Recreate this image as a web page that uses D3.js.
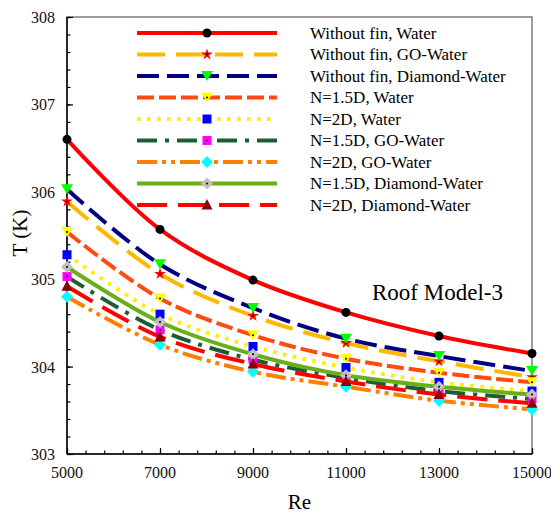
<!DOCTYPE html>
<html>
<head>
<meta charset="utf-8">
<script src="https://cdn.jsdelivr.net/npm/d3@7"></script>
<style>
body { margin: 0; background: #fff; }
text { font-family: "Liberation Serif", "Times New Roman", serif; }
</style>
</head>
<body>
<div id="chart"></div>
<script>
// Re values (x)
var reValues = [5000, 7000, 9000, 11000, 13000, 15000];

// temperature, K
var noFinWater   = [306.60, 305.57, 304.99, 304.62, 304.35, 304.15];
var noFinGO      = [305.89, 305.06, 304.58, 304.27, 304.06, 303.88];
var noFinDiamond = [306.03, 305.17, 304.67, 304.32, 304.12, 303.95];
var n15Water     = [305.54, 304.78, 304.36, 304.09, 303.93, 303.82];
var n2Water      = [305.28, 304.60, 304.23, 303.99, 303.82, 303.72];
var n15GO        = [305.03, 304.42, 304.08, 303.87, 303.72, 303.63];
var n2GO         = [304.80, 304.25, 303.94, 303.77, 303.61, 303.51];
var n15Diamond   = [305.14, 304.51, 304.14, 303.90, 303.77, 303.68];
var n2Diamond    = [304.92, 304.34, 304.03, 303.83, 303.68, 303.58];

var seriesNames = ["Without fin, Water", "Without fin, GO-Water", "Without fin, Diamond-Water",
  "N=1.5D, Water", "N=2D, Water", "N=1.5D, GO-Water", "N=2D, GO-Water",
  "N=1.5D, Diamond-Water", "N=2D, Diamond-Water"];
var seriesValues = [noFinWater, noFinGO, noFinDiamond, n15Water, n2Water, n15GO, n2GO, n15Diamond, n2Diamond];

var xTicks = [5000, 7000, 9000, 11000, 13000, 15000];
var yTicks = [303, 304, 305, 306, 307, 308];

// line and marker style for each series
var styles = [
  {color: "#ff0000", dash: null,             marker: "circle",   fill: "#000000", dot: false},
  {color: "#ffb800", dash: "28,11",          marker: "star",     fill: "#ff0000", dot: true},
  {color: "#000080", dash: "22,8",           marker: "triDown",  fill: "#00ff00", dot: false},
  {color: "#ff4a10", dash: "17,5",           marker: "triDown",  fill: "#ffff00", dot: true},
  {color: "#ffee00", dash: "3.5,6.5",        marker: "square",   fill: "#0000ff", dot: false},
  {color: "#1e5c32", dash: "20,8,4,8",       marker: "square",   fill: "#ff00ff", dot: true},
  {color: "#ff8000", dash: "20,5,4,5,4,5",   marker: "diamond",  fill: "#00ffff", dot: false},
  {color: "#6aae1a", dash: null,             marker: "diamond",  fill: "#c0c0c0", dot: true},
  {color: "#ff0000", dash: "30,11",          marker: "triUp",    fill: "#8b0000", dot: false}
];

var W = 551, H = 513;
var padL = 67, padR = 532, padT = 17, padB = 454;

var svg = d3.select("#chart").append("svg").attr("width", W).attr("height", H);

var x = d3.scaleLinear().domain([5000, 15000]).range([padL, padR]);
var y = d3.scaleLinear().domain([303, 308]).range([padB, padT]);

// plot frame
svg.append("rect").attr("x", padL).attr("y", padT).attr("width", padR - padL).attr("height", padB - padT)
  .attr("fill", "none").attr("stroke", "#7f7f7f").attr("stroke-width", 1.5);

// axes: ticks inside
var xMinor = d3.range(5000, 15001, 400);
var yMinor = d3.range(0, 26).map(function(i){ return 303 + i * 0.2; });

svg.append("g").attr("transform", "translate(0," + padB + ")")
  .call(d3.axisTop(x).tickValues(xMinor).tickSize(3.5).tickFormat(""))
  .call(function(g){ g.select(".domain").remove(); });
svg.append("g").attr("transform", "translate(0," + padB + ")")
  .call(d3.axisTop(x).tickValues(xTicks).tickSize(6).tickFormat(""))
  .call(function(g){ g.select(".domain").remove(); });
svg.append("g").attr("transform", "translate(" + padL + ",0)")
  .call(d3.axisRight(y).tickValues(yMinor).tickSize(3.5).tickFormat(""))
  .call(function(g){ g.select(".domain").remove(); });
svg.append("g").attr("transform", "translate(" + padL + ",0)")
  .call(d3.axisRight(y).tickValues(yTicks).tickSize(6).tickFormat(""))
  .call(function(g){ g.select(".domain").remove(); });
svg.selectAll(".tick line").attr("stroke", "#000").attr("stroke-width", 1.2);

svg.append("line").attr("x1", padL).attr("x2", padL).attr("y1", padT).attr("y2", padB)
  .attr("stroke", "#000").attr("stroke-width", 1.5);
svg.append("line").attr("x1", padL).attr("x2", padR).attr("y1", padB).attr("y2", padB)
  .attr("stroke", "#000").attr("stroke-width", 1.5);

// tick labels
svg.selectAll(".xlab").data(xTicks).enter().append("text")
  .attr("x", function(d){ return x(d); }).attr("y", padB + 24)
  .attr("text-anchor", "middle").attr("font-size", 16).attr("fill", "#111")
  .text(function(d){ return d; });
svg.selectAll(".ylab").data(yTicks).enter().append("text")
  .attr("x", padL - 12).attr("y", function(d){ return y(d) + 6; })
  .attr("text-anchor", "end").attr("font-size", 16).attr("fill", "#111")
  .text(function(d){ return d; });

// axis titles
svg.append("text").attr("x", (padL + padR) / 2).attr("y", 509).attr("text-anchor", "middle")
  .attr("font-size", 21).text("Re");
svg.append("text").attr("transform", "translate(27,233) rotate(-90)").attr("text-anchor", "middle")
  .attr("font-size", 21).text("T (K)");

svg.append("text").attr("x", 372).attr("y", 300).attr("font-size", 23).text("Roof Model-3");

var line = d3.line()
  .x(function(d, i){ return x(reValues[i]); })
  .y(function(d){ return y(d); })
  .curve(d3.curveCatmullRom.alpha(0.5));

function drawMarker(g, type, fill, dot, cx, cy) {
  var m = g.append("g").attr("transform", "translate(" + cx + "," + cy + ")");
  if (type == "circle") {
    m.append("circle").attr("r", 4.5).attr("fill", fill);
  } else if (type == "star") {
    m.append("path").attr("d", d3.symbol().type(d3.symbolStar).size(42)()).attr("fill", fill);
  } else if (type == "triDown") {
    m.append("path").attr("d", "M-6,-5L6,-5L0,5Z").attr("fill", fill);
  } else if (type == "triUp") {
    m.append("path").attr("d", "M-5.5,4.5L5.5,4.5L0,-6Z").attr("fill", fill);
  } else if (type == "square") {
    m.append("rect").attr("x", -4.5).attr("y", -4.5).attr("width", 9).attr("height", 9).attr("fill", fill);
  } else if (type == "diamond") {
    m.append("path").attr("d", "M0,-6L6,0L0,6L-6,0Z").attr("fill", fill);
  }
  if (dot) {
    m.append("circle").attr("r", 1).attr("fill", "#000");
  }
}

seriesValues.forEach(function(vals, s) {
  var st = styles[s];
  var g = svg.append("g");
  g.append("path").datum(vals).attr("d", line)
    .attr("fill", "none").attr("stroke", st.color).attr("stroke-width", 4)
    .attr("stroke-dasharray", st.dash);
  vals.forEach(function(v, i) {
    drawMarker(g, st.marker, st.fill, st.dot, x(reValues[i]), y(v));
  });
});

// legend
var legX1 = 137, legX2 = 277, legY0 = 33, legStep = 21.5;
seriesNames.forEach(function(name, s) {
  var st = styles[s];
  var ly = legY0 + s * legStep;
  var g = svg.append("g");
  g.append("line").attr("x1", legX1).attr("x2", legX2).attr("y1", ly).attr("y2", ly)
    .attr("stroke", st.color).attr("stroke-width", 4).attr("stroke-dasharray", st.dash);
  drawMarker(g, st.marker, st.fill, st.dot, 207, ly);
  g.append("text").attr("x", 310).attr("y", ly + 5.5).attr("font-size", 17).text(name);
});
</script>
</body>
</html>
